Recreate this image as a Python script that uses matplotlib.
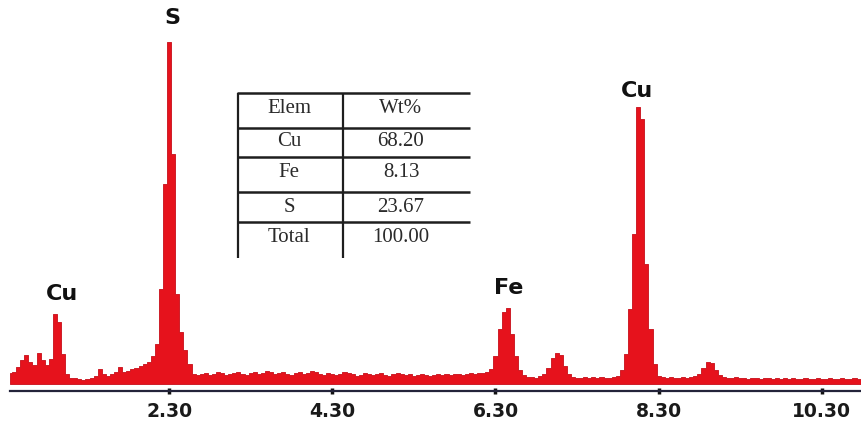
import numpy as np
import matplotlib
matplotlib.use("Agg")
import matplotlib.pyplot as plt

# EDS spectrum, 0.05 keV channels from 0.35 to 10.80 keV
e_start, e_stop = 0.35, 10.80
counts = [
    11, 12, 17, 24, 29, 22, 19, 31, 24, 19,
    25, 70, 62, 30, 10, 6, 6, 5, 4, 5,
    6, 8, 15, 10, 8, 10, 12, 17, 12, 13,
    15, 16, 18, 20, 22, 28, 40, 95, 200, 342,
    230, 90, 52, 34, 20, 10, 9, 10, 11, 9,
    10, 12, 11, 9, 10, 11, 12, 10, 9, 11,
    12, 10, 11, 13, 12, 10, 11, 12, 10, 9,
    11, 12, 10, 11, 13, 12, 10, 9, 11, 10,
    9, 10, 12, 11, 10, 8, 9, 11, 10, 9,
    10, 11, 9, 8, 10, 11, 10, 9, 10, 8,
    9, 10, 9, 8, 9, 10, 9, 10, 9, 10,
    10, 9, 10, 11, 10, 11, 11, 12, 15, 28,
    55, 72, 76, 50, 28, 14, 9, 7, 7, 6,
    8, 10, 16, 26, 31, 29, 18, 10, 7, 6,
    6, 7, 6, 7, 6, 7, 6, 6, 7, 8,
    14, 30, 75, 150, 277, 265, 120, 55, 20, 8,
    7, 6, 7, 6, 6, 7, 6, 7, 8, 10,
    16, 22, 21, 14, 9, 7, 6, 6, 7, 6,
    6, 5, 6, 6, 5, 6, 6, 5, 6, 5,
    6, 5, 6, 5, 5, 6, 5, 5, 6, 5,
    5, 6, 5, 5, 6, 5, 5, 6, 5, 5,
]
energy = np.linspace(e_start, e_stop, len(counts))

tick_pos = [2.30, 4.30, 6.30, 8.30, 10.30]
tick_labels = ["2.30", "4.30", "6.30", "8.30", "10.30"]

# peak labels: (text, energy, height)
peak_names = ["S", "Cu", "Cu", "Fe"]
peak_x = [2.34, 8.04, 0.99, 6.46]
peak_y = [366, 293, 90, 96]

# composition table
elems = ["Elem", "Cu", "Fe", "S", "Total"]
wt = ["Wt%", "68.20", "8.13", "23.67", "100.00"]

W, H = 861, 423
fig = plt.figure(figsize=(W / 100, H / 100), dpi=100)
ax = fig.add_axes([10 / W, (H - 391) / H, 1 - 10 / W, 391 / H])

ax.fill_between(energy, counts, 0, step="mid", facecolor="#e6121c",
                edgecolor="#c80e18", linewidth=0.6)
ax.set_xlim(0.35, 10.78)
ax.set_ylim(-7, 391 - 7)

for s in ["left", "right", "top"]:
    ax.spines[s].set_visible(False)
ax.spines["bottom"].set_color("#23233a")
ax.spines["bottom"].set_linewidth(1.6)
ax.set_yticks([])
ax.set_xticks(tick_pos)
ax.set_xticklabels(tick_labels, fontsize=13.5, fontweight="heavy", color="#1a1a1a")
ax.tick_params(axis="x", direction="inout", length=4, width=2.5, color="#111111", pad=6)

for name, x, y in zip(peak_names, peak_x, peak_y):
    ax.text(x, y, name, ha="center", va="center", fontsize=16,
            fontweight="heavy", color="#111111")

# table drawn in pixel coordinates
tax = fig.add_axes([237 / W, (H - 258) / H, (470 - 237) / W, (258 - 93) / H])
tax.set_xlim(237, 470)
tax.set_ylim(258, 93)
tax.axis("off")
tax.patch.set_visible(False)

row_lines = [93, 128, 157, 192, 222]
row_mid = [109, 142, 173, 207, 237]
for yl in row_lines:
    tax.plot([237, 470], [yl, yl], color="#1e1e1e", lw=1.8, clip_on=False,
             solid_capstyle="butt")
for xl in [238, 343]:
    tax.plot([xl, xl], [93, 258], color="#1e1e1e", lw=1.6, clip_on=False,
             solid_capstyle="butt")
for ym, a, b in zip(row_mid, elems, wt):
    tax.text(289, ym, a, ha="center", va="center", fontsize=15,
             family="Liberation Serif", color="#2a2a2a")
    tax.text(401, ym, b, ha="center", va="center", fontsize=15,
             family="Liberation Serif", color="#2a2a2a")

fig.savefig("out.png", dpi=100)
